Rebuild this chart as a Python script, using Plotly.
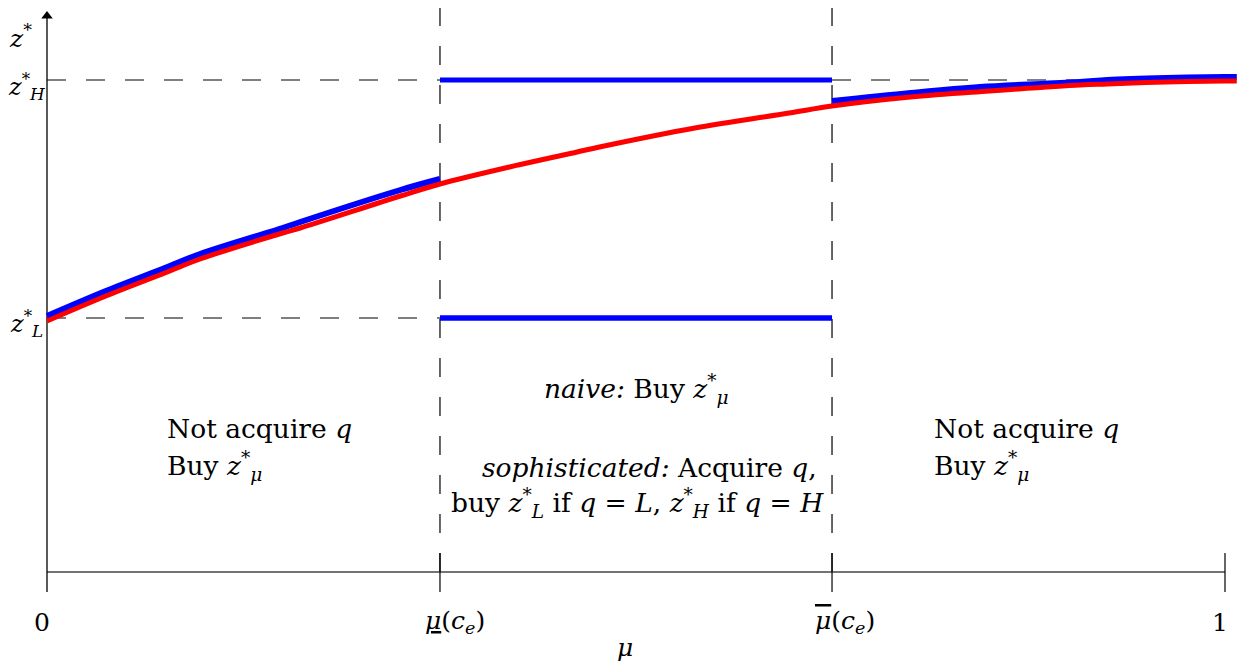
import plotly.graph_objects as go

# ---- data ----
mu_low = 0.3336      # underline-mu(c_e)
mu_high = 0.6664     # overline-mu(c_e)
z_L = 2.54
z_H = 4.92

# red curve: z*_mu over the whole range
red_mu = [0.0, 0.05, 0.10, 0.13, 0.20, 0.215, 0.30, 0.3336, 0.40, 0.45, 0.469, 0.55, 0.63, 0.6664, 0.733, 0.80, 0.877, 0.90, 0.95, 1.0, 1.01]
red_z  = [2.51, 2.76, 2.99, 3.13, 3.39, 3.44, 3.76, 3.88, 4.07, 4.20, 4.25, 4.44, 4.59, 4.66, 4.75, 4.81, 4.87, 4.88, 4.90, 4.91, 4.91]

# blue, left region
blue_l_mu = [0.0, 0.05, 0.10, 0.13, 0.20, 0.215, 0.30, 0.3336]
blue_l_z  = [2.56, 2.81, 3.04, 3.18, 3.44, 3.50, 3.82, 3.93]

# blue, right region
blue_r_mu = [0.6664, 0.733, 0.792, 0.877, 0.90, 0.95, 1.0, 1.01]
blue_r_z  = [4.71, 4.79, 4.85, 4.90, 4.92, 4.94, 4.95, 4.95]

# x tick positions / labels
xtick_vals = [0.0, mu_low, mu_high, 1.0]
xtick_text = ["0",
              "<u><i>μ</i></u>(<i>c</i><sub><i>e</i></sub>)",
              "<span style='text-decoration:overline'><i>μ</i></span>(<i>c</i><sub><i>e</i></sub>)",
              "1"]

FONT = "'DejaVu Serif', 'Liberation Serif', serif"
OFF = 8  # page body margin
W, H = 1249 - OFF, 665 - OFF
X0PIX, X1PIX, Y0PIX, YSCALE = 47 - OFF, 1225 - OFF, 572 - OFF, 100.0
px_per_unit_x = X1PIX - X0PIX
xr = [-X0PIX / px_per_unit_x, (W - X0PIX) / px_per_unit_x]
yr = [(Y0PIX - H) / YSCALE, Y0PIX / YSCALE]

def px2x(p):
    return (p - 47) / px_per_unit_x

def px2y(p):
    return (572 - p) / YSCALE

fig = go.Figure()

BLUE = "#0000ff"
RED = "#ff0000"

fig.add_trace(go.Scatter(x=blue_l_mu, y=blue_l_z, mode="lines", line=dict(color=BLUE, width=6, shape="spline"), hoverinfo="skip"))
fig.add_trace(go.Scatter(x=blue_r_mu, y=blue_r_z, mode="lines", line=dict(color=BLUE, width=6, shape="spline"), hoverinfo="skip"))
fig.add_trace(go.Scatter(x=[mu_low, mu_high], y=[z_H, z_H], mode="lines", line=dict(color=BLUE, width=5), hoverinfo="skip"))
fig.add_trace(go.Scatter(x=[mu_low, mu_high], y=[z_L, z_L], mode="lines", line=dict(color=BLUE, width=5), hoverinfo="skip"))
fig.add_trace(go.Scatter(x=[mu_low, mu_high], y=[z_L, z_L], mode="lines", line=dict(color=BLUE, width=5), hoverinfo="skip"))
fig.add_trace(go.Scatter(x=red_mu, y=red_z, mode="lines", line=dict(color=RED, width=5, shape="spline"), hoverinfo="skip"))
# y axis arrow head
fig.add_trace(go.Scatter(x=[0], y=[px2y(16)], mode="markers",
                         marker=dict(symbol="triangle-up", size=10, color="black", line=dict(width=0)),
                         hoverinfo="skip", cliponaxis=False))

shapes = []
dash = "19px,20px"
# horizontal dashed guides
shapes.append(dict(type="line", x0=0, x1=mu_low, y0=z_H, y1=z_H, line=dict(color="black", width=1.2, dash=dash), layer="below"))
shapes.append(dict(type="line", x0=mu_high, x1=1.0, y0=z_H, y1=z_H, line=dict(color="black", width=1.2, dash=dash), layer="below"))
shapes.append(dict(type="line", x0=0, x1=mu_low, y0=z_L, y1=z_L, line=dict(color="black", width=1.2, dash=dash), layer="below"))
# vertical dashed guides
for xv in [mu_low, mu_high]:
    shapes.append(dict(type="line", x0=xv, x1=xv, y0=0, y1=yr[1] + 0.1, line=dict(color="black", width=1.2, dash=dash), layer="below"))
# x axis line
shapes.append(dict(type="line", x0=0, x1=1.0, y0=0, y1=0, line=dict(color="#444444", width=1.3), layer="below"))
# y axis line
shapes.append(dict(type="line", x0=0, x1=0, y0=-0.2, y1=px2y(16), line=dict(color="black", width=1.3), layer="below"))
# x ticks
for xv in xtick_vals[1:]:
    shapes.append(dict(type="line", x0=xv, x1=xv, y0=-0.2, y1=0.19, line=dict(color="black", width=1.2), layer="below"))
fig.update_layout(shapes=shapes)

ann = []
fs = 26.5
def txt(x, y, t, xa="center", ya="middle", size=fs):
    ann.append(dict(x=x, y=y, xref="x", yref="y", text=t, showarrow=False,
                    xanchor=xa, yanchor=ya, font=dict(family=FONT, size=size, color="black")))

# y labels
txt(px2x(20), px2y(36), "<i>z</i><sup>*</sup>", size=25)
txt(px2x(26), px2y(86), "<i>z</i><sup>*</sup><sub><i>H</i></sub>", size=24)
txt(px2x(26), px2y(323), "<i>z</i><sup>*</sup><sub><i>L</i></sub>", size=24)

# x tick labels
tick_px = [42, 455, 845, 1220]
for v, t, p in zip(xtick_vals, xtick_text, tick_px):
    txt(px2x(p), px2y(622), t, size=25)
txt(px2x(625), px2y(647), "<i>μ</i>", size=25)

# region texts
txt(px2x(165), px2y(428), "Not acquire <i>q</i>", xa="left")
txt(px2x(165), px2y(466), "Buy <i>z</i><sup>*</sup><sub><i>μ</i></sub>", xa="left")
txt(px2x(932), px2y(428), "Not acquire <i>q</i>", xa="left")
txt(px2x(932), px2y(466), "Buy <i>z</i><sup>*</sup><sub><i>μ</i></sub>", xa="left")
txt(px2x(636), px2y(389), "<i>naive:</i> Buy <i>z</i><sup>*</sup><sub><i>μ</i></sub>")
txt(px2x(649), px2y(467), "<i>sophisticated:</i> Acquire <i>q</i>,")
txt(px2x(637), px2y(503), "buy <i>z</i><sup>*</sup><sub><i>L</i></sub> if <i>q</i> = <i>L</i>, <i>z</i><sup>*</sup><sub><i>H</i></sub> if <i>q</i> = <i>H</i>")

fig.update_layout(
    annotations=ann,
    width=W, height=H,
    margin=dict(l=0, r=0, t=0, b=0),
    paper_bgcolor="white", plot_bgcolor="white",
    showlegend=False,
    xaxis=dict(range=xr, visible=False, fixedrange=True),
    yaxis=dict(range=yr, visible=False, fixedrange=True),
)

fig.write_html("out.html")
